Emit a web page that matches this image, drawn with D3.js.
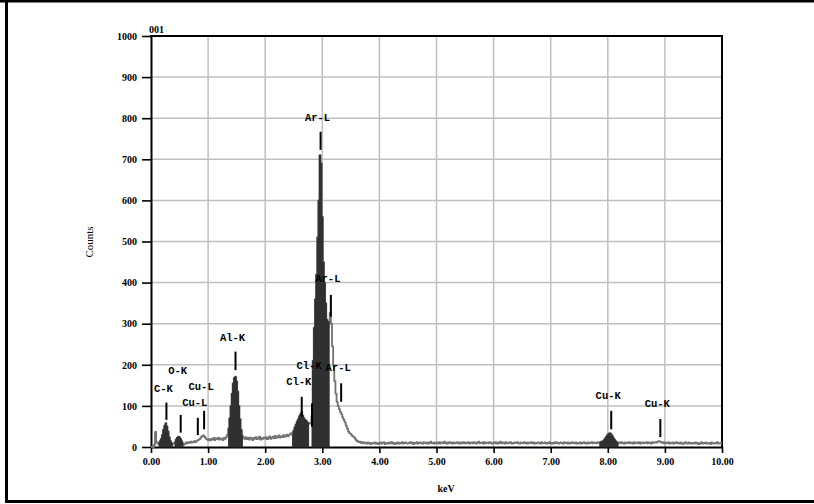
<!DOCTYPE html>
<html>
<head>
<meta charset="utf-8">
<script src="https://cdn.jsdelivr.net/npm/d3@7"></script>
<style>
  html, body { margin: 0; padding: 0; background: #fff; }
  svg { display: block; }
</style>
</head>
<body>
<svg id="chart" width="814" height="504"></svg>
<script>
// EDS spectrum: one count value per 0.02 keV channel, starting at 0.00 keV
const channelKeV = 0.02;
const counts = [
  // 0.00 - 0.48
  0,0,0,5,37,12,8,10,14,20,30,42,52,58,50,38,24,15,10,8,9,12,18,23,25,
  // 0.50 - 0.98
  24,20,14,9,6,8,11,9,12,10,13,11,12,14,12,15,16,18,20,24,27,28,25,21,19,
  // 1.00 - 1.48
  17,19,16,20,18,22,17,21,19,23,18,21,20,17,22,20,24,30,45,70,100,130,155,168,171,
  // 1.50 - 1.98
  160,135,100,68,42,28,22,20,24,19,22,18,23,21,17,22,20,24,19,21,25,18,22,20,23,
  // 2.00 - 2.48
  21,24,19,22,26,20,23,25,21,27,22,24,28,23,26,24,29,25,27,30,26,29,32,34,30,
  // 2.50 - 2.98
  40,48,55,62,68,75,80,85,76,70,66,64,60,58,57,60,75,210,290,360,420,510,600,710,690,
  // 3.00 - 3.48
  560,450,400,350,310,290,305,326,300,245,200,160,130,110,100,92,85,80,72,66,60,52,45,38,34,
  // 3.50 - 3.98
  32,28,26,24,20,16,14,12,13,10,12,9,11,10,8,11,9,7,10,8,9,11,8,10,7,
  // 4.00 - 4.48
  9,11,8,10,12,7,9,10,8,11,9,12,8,10,7,9,11,8,10,9,12,8,10,11,9,
  // 4.50 - 4.98
  8,10,12,9,11,7,10,9,12,8,10,11,9,8,12,10,9,11,8,10,13,9,10,8,11,
  // 5.00 - 5.48
  10,9,12,8,11,10,9,13,10,8,11,9,12,10,8,11,9,10,12,9,11,8,10,12,9,
  // 5.50 - 5.98
  11,9,10,12,8,10,11,9,12,10,8,11,13,9,10,11,8,12,9,10,11,9,12,10,8,
  // 6.00 - 6.48
  10,12,9,11,8,10,13,9,11,10,8,12,10,9,11,12,8,10,9,11,10,12,9,8,11,
  // 6.50 - 6.98
  10,9,12,10,8,11,9,10,12,9,11,8,10,9,11,10,8,12,9,10,11,8,10,9,12,
  // 7.00 - 7.48
  9,10,8,11,9,12,10,8,10,11,9,8,12,10,9,11,8,10,9,12,10,9,11,8,10,
  // 7.50 - 7.98
  9,11,8,10,12,9,10,8,11,9,10,12,9,11,10,9,12,10,11,13,12,15,18,22,26,
  // 8.00 - 8.48
  30,33,34,31,27,22,18,14,12,10,11,9,12,10,8,11,9,10,12,9,11,10,8,12,9,
  // 8.50 - 8.98
  10,11,9,12,8,10,11,9,10,12,9,11,10,8,12,10,11,12,11,13,14,13,11,12,9,
  // 9.00 - 9.48
  11,9,10,12,8,10,9,11,8,10,12,9,10,8,11,9,7,10,12,9,8,11,9,10,8,
  // 9.50 - 9.98
  10,9,11,8,10,7,9,12,8,10,9,11,8,9,10,7,11,9,8,10,9,12,8,9,10,
  // 10.00
  9
];

// energy windows (keV) shaded under the identified peaks
const roiStart = [0.14, 0.42, 1.36, 2.48, 2.82, 7.86];
const roiEnd   = [0.38, 0.56, 1.60, 2.76, 3.12, 8.18];

// peak identification markers
const peakNames     = ["C-K", "O-K", "Cu-L", "Cu-L", "Al-K", "Cl-K", "Cl-K", "Ar-L", "Ar-L", "Ar-L", "Cu-K", "Cu-K"];
const peakKeV       = [0.27, 0.52, 0.82, 0.93, 1.48, 2.64, 2.82, 2.97, 3.15, 3.33, 8.06, 8.92];
const markerTop     = [108, 78, 71, 88, 232, 122, 106, 767, 370, 155, 88, 68];
const markerBottom  = [66, 35, 29, 43, 187, 74, 49, 723, 317, 110, 43, 24];
const labelCounts   = [134, 177, 100, 139, 258, 151, 189, 792, 402, 186, 116, 98];

const xTicks = [0, 1, 2, 3, 4, 5, 6, 7, 8, 9, 10];
const xTickLabels = ["0.00", "1.00", "2.00", "3.00", "4.00", "5.00", "6.00", "7.00", "8.00", "9.00", "10.00"];
const yTicks = [0, 100, 200, 300, 400, 500, 600, 700, 800, 900, 1000];
const yTickLabels = ["0", "100", "200", "300", "400", "500", "600", "700", "800", "900", "1000"];

const spectrum = counts.map((c, i) => ({ e: i * channelKeV, c }));

const svg = d3.select("#chart");
const W = 814, H = 504;
const plot = { left: 151, right: 722, top: 36, bottom: 447 };

const x = d3.scaleLinear().domain([0, 10]).range([plot.left, plot.right]);
const y = d3.scaleLinear().domain([0, 1000]).range([plot.bottom, plot.top]);

// page frame
svg.append("line").attr("x1", 0).attr("x2", W).attr("y1", 1).attr("y2", 1)
  .attr("stroke", "#000").attr("stroke-width", 3);
svg.append("line").attr("x1", 6.5).attr("x2", 6.5).attr("y1", 0).attr("y2", 503)
  .attr("stroke", "#000").attr("stroke-width", 3);
svg.append("line").attr("x1", 5).attr("x2", W).attr("y1", 501.5).attr("y2", 501.5)
  .attr("stroke", "#000").attr("stroke-width", 3);

// grid
const grid = svg.append("g").attr("stroke", "#bfbfbf").attr("stroke-width", 1.5);
grid.selectAll("line.v").data(xTicks.slice(1, -1)).join("line")
  .attr("x1", d => x(d)).attr("x2", d => x(d))
  .attr("y1", plot.top).attr("y2", plot.bottom);
grid.selectAll("line.h").data(yTicks.slice(1, -1)).join("line")
  .attr("x1", plot.left).attr("x2", plot.right)
  .attr("y1", d => y(d)).attr("y2", d => y(d));

// axes
const tickFont = "'Liberation Serif', 'Times New Roman', serif";
const xAxis = svg.append("g").attr("transform", `translate(0,${plot.bottom})`)
  .call(d3.axisBottom(x).tickValues(xTicks).tickSize(6).tickSizeOuter(0)
    .tickFormat((d, i) => xTickLabels[i]));
const yAxis = svg.append("g").attr("transform", `translate(${plot.left},0)`)
  .call(d3.axisLeft(y).tickValues(yTicks).tickSize(9).tickSizeOuter(0)
    .tickFormat((d, i) => yTickLabels[i]));
[xAxis, yAxis].forEach(a => {
  a.select(".domain").attr("stroke", "#000").attr("stroke-width", 2);
  a.selectAll(".tick line").attr("stroke", "#000").attr("stroke-width", 1.6);
  a.selectAll(".tick text").attr("fill", "#000")
    .style("font-family", tickFont).style("font-weight", "bold").style("font-size", "10px");
});
xAxis.selectAll(".tick text").attr("y", 11);
yAxis.selectAll(".tick text").attr("x", -14);

// top and right frame of the plot
svg.append("line").attr("x1", plot.left - 1).attr("x2", plot.right + 1)
  .attr("y1", plot.top).attr("y2", plot.top).attr("stroke", "#000").attr("stroke-width", 2);
svg.append("line").attr("x1", plot.right).attr("x2", plot.right)
  .attr("y1", plot.top).attr("y2", plot.bottom + 1).attr("stroke", "#000").attr("stroke-width", 2);

// spectrum trace, drawn as a channel histogram
const line = d3.line().curve(d3.curveStep).x(d => x(d.e)).y(d => y(d.c));
svg.append("path").datum(spectrum)
  .attr("d", line).attr("fill", "none")
  .attr("stroke", "#737373").attr("stroke-width", 1.8).attr("stroke-linejoin", "round");

// shaded peak windows
const area = d3.area().curve(d3.curveStep).x(d => x(d.e)).y0(y(0)).y1(d => y(d.c));
roiStart.forEach((s, k) => {
  const seg = spectrum.filter(d => d.e >= s - 1e-9 && d.e <= roiEnd[k] + 1e-9);
  svg.append("path").datum(seg).attr("d", area)
    .attr("fill", "#303030").attr("stroke", "#303030").attr("stroke-width", 1);
});

// peak markers and labels
const labelFont = "'Liberation Mono', 'Courier New', monospace";
peakNames.forEach((name, i) => {
  svg.append("line")
    .attr("x1", x(peakKeV[i])).attr("x2", x(peakKeV[i]))
    .attr("y1", y(markerTop[i])).attr("y2", y(markerBottom[i]))
    .attr("stroke", "#000").attr("stroke-width", 2);
  svg.append("text")
    .attr("x", x(peakKeV[i]) - 3).attr("y", y(labelCounts[i]))
    .attr("text-anchor", "middle")
    .style("font-family", labelFont).style("font-weight", "bold").style("font-size", "10.5px")
    .attr("fill", "#000")
    .text(name);
});

// titles
svg.append("text").attr("x", 149).attr("y", 33)
  .style("font-family", tickFont).style("font-weight", "bold").style("font-size", "10px")
  .attr("fill", "#000").text("001");
svg.append("text")
  .attr("transform", "translate(93,242) rotate(-90)")
  .attr("text-anchor", "middle")
  .style("font-family", tickFont).style("font-size", "11px")
  .attr("fill", "#000").text("Counts");
svg.append("text").attr("x", 446).attr("y", 492).attr("text-anchor", "middle")
  .style("font-family", tickFont).style("font-weight", "bold").style("font-size", "10px")
  .attr("fill", "#000").text("keV");
</script>
</body>
</html>
